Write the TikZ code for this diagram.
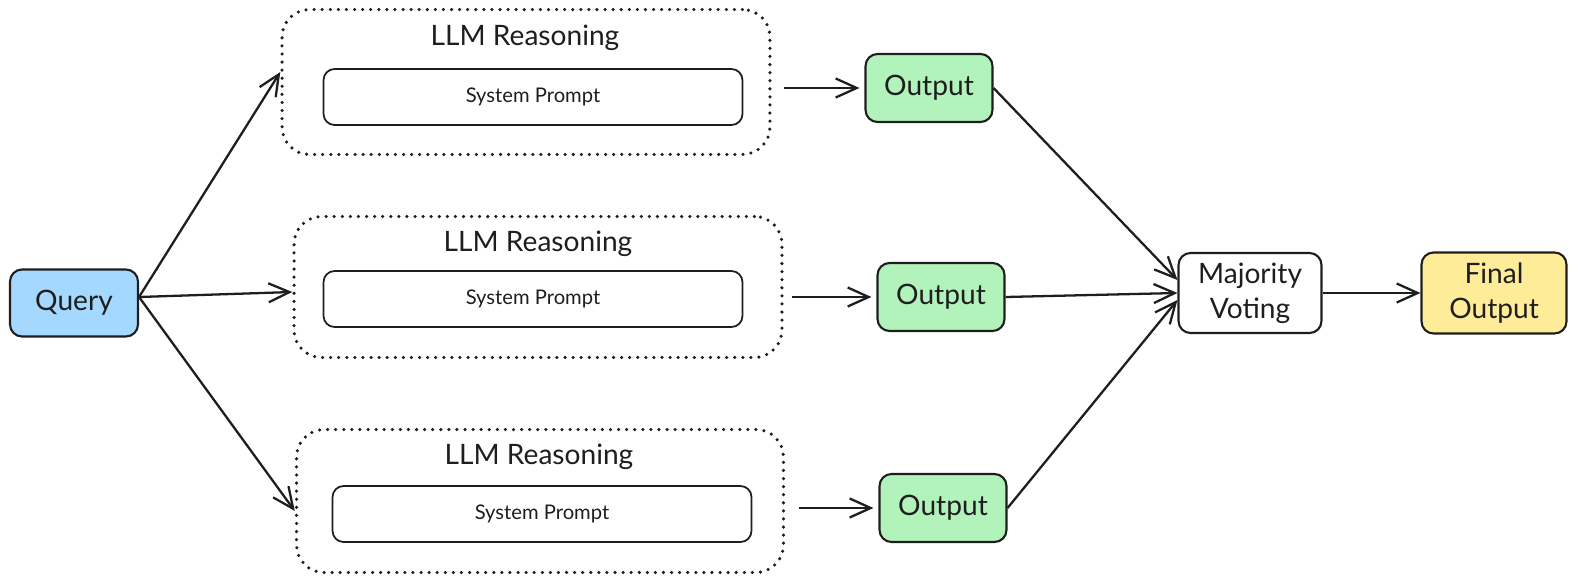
\documentclass[tikz,border=0pt]{standalone}
\usepackage{fontspec}
\setmainfont{Lato}
\usetikzlibrary{arrows.meta}

\definecolor{queryblue}{HTML}{A5D8FF}
\definecolor{outgreen}{HTML}{B2F2BB}
\definecolor{finalyellow}{HTML}{FFEC99}
\definecolor{ink}{HTML}{1E1E1E}

\begin{document}
\begin{tikzpicture}[
    x=0.02cm, y=-0.02cm,
    box/.style={draw=ink, line width=1.2pt, rounded corners=0.24cm, align=center,
        text=ink, font=\fontsize{16}{20}\selectfont, inner sep=0pt},
    llmbox/.style={draw=ink, line width=2pt, line cap=round,
        dash pattern=on 0pt off 4.6pt, rounded corners=0.55cm, inner sep=0pt},
    prompt/.style={draw=ink, line width=1pt, rounded corners=0.22cm, inner sep=0pt,
        minimum width=8.38cm, minimum height=1.12cm, text=ink,
        font=\fontsize{11.5}{14}\selectfont},
    title/.style={text=ink, font=\fontsize{16}{20}\selectfont, inner sep=0pt},
    arrow/.style={draw=ink, line width=1.3pt,
        -{Straight Barb[length=0.42cm, width=0.38cm, line width=1.3pt]}}
    ]
    \useasboundingbox (0,0) rectangle (1577,584);

    % query
    \node[box, fill=queryblue, minimum width=2.56cm, minimum height=1.34cm] (query) at (74,303) {Query};

    % three reasoning paths
    \node[llmbox, minimum width=9.76cm, minimum height=2.9cm] (llm1) at (526,82) {};
    \node[title] (title1) at (525,38) {LLM Reasoning};
    \node[prompt] (sp1) at (533,97) {System Prompt};

    \node[llmbox, minimum width=9.76cm, minimum height=2.82cm] (llm2) at (538,287) {};
    \node[title] (title2) at (538,244) {LLM Reasoning};
    \node[prompt] (sp2) at (533,299) {System Prompt};

    \node[llmbox, minimum width=9.74cm, minimum height=2.86cm] (llm3) at (540,501) {};
    \node[title] (title3) at (539,457) {LLM Reasoning};
    \node[prompt] (sp3) at (542,514) {System Prompt};

    % outputs
    \node[box, fill=outgreen, minimum width=2.54cm, minimum height=1.36cm] (out1) at (929,88) {Output};
    \node[box, fill=outgreen, minimum width=2.54cm, minimum height=1.36cm] (out2) at (941,297) {Output};
    \node[box, fill=outgreen, minimum width=2.54cm, minimum height=1.36cm] (out3) at (943,508) {Output};

    % voting
    \node[box, fill=white, minimum width=2.86cm, minimum height=1.6cm] (vote) at (1250,293) {Majority\\Voting};
    \node[box, fill=finalyellow, minimum width=2.9cm, minimum height=1.62cm] (final) at (1494,293) {Final\\Output};

    \draw[arrow] ([yshift=0.12cm]query.east) -- ([yshift=0.2cm]llm1.west);
    \draw[arrow] ([yshift=0.12cm]query.east) -- ([yshift=-0.1cm]llm2.west);
    \draw[arrow] ([yshift=0.12cm]query.east) -- ([yshift=-0.2cm]llm3.west);

    \draw[arrow, shorten <=0.24cm, shorten >=0.1cm] (llm1.east |- out1.west) -- (out1.west);
    \draw[arrow, shorten <=0.16cm, shorten >=0.1cm] (llm2.east |- out2.west) -- (out2.west);
    \draw[arrow, shorten <=0.28cm, shorten >=0.1cm] (llm3.east |- out3.west) -- (out3.west);

    \draw[arrow] (out1.east) -- ([yshift=0.26cm]vote.west);
    \draw[arrow] (out2.east) -- (vote.west);
    \draw[arrow] (out3.east) -- ([yshift=-0.14cm]vote.west);

    \draw[arrow] (vote.east) -- (final.west);
\end{tikzpicture}
\end{document}
